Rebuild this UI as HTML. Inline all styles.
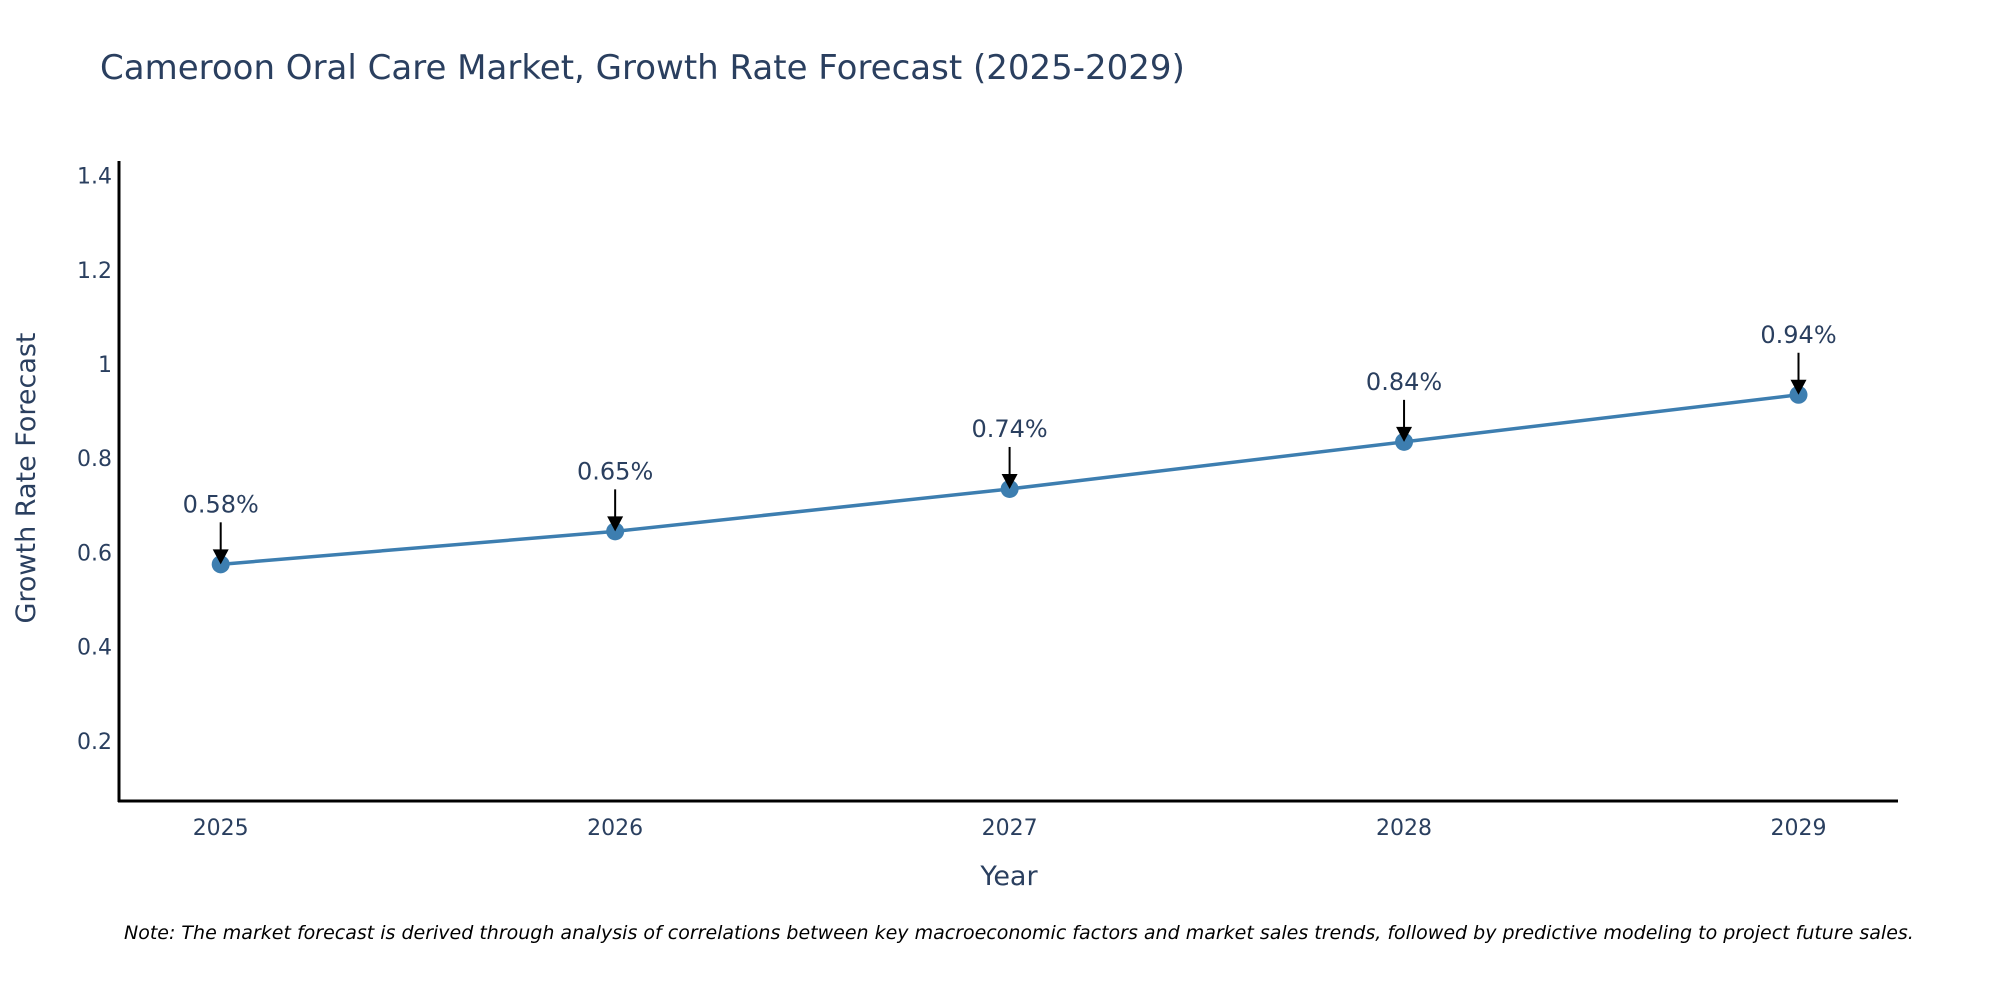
<!DOCTYPE html>
<html><head><meta charset="utf-8"><style>
html,body{margin:0;padding:0;background:#fff;}
svg{display:block;font-family:"DejaVu Sans","Liberation Sans",sans-serif;}
</style></head><body>
<svg id="chart" width="2000" height="1000" viewBox="0 0 2000 1000">
<text x="100" y="79" font-size="34" fill="#2a3f5f">Cameroon Oral Care Market, Growth Rate Forecast (2025-2029)</text>
<g id="yticks"></g>
<g id="xticks"></g>
<line x1="119" y1="161" x2="119" y2="802" stroke="#000" stroke-width="3"/>
<line x1="118" y1="801" x2="1898" y2="801" stroke="#000" stroke-width="3"/>
<g id="series"></g>
<g id="annots"></g>
<text x="1009" y="885" font-size="27" fill="#2a3f5f" text-anchor="middle">Year</text>
<text x="0" y="0" font-size="27" fill="#2a3f5f" text-anchor="middle" transform="translate(35,478) rotate(-90)">Growth Rate Forecast</text>
<text x="124" y="939" font-size="19" font-style="italic" fill="#000">Note: The market forecast is derived through analysis of correlations between key macroeconomic factors and market sales trends, followed by predictive modeling to project future sales.</text>
</svg>
<script>
const years = [2025, 2026, 2027, 2028, 2029];
const values = [0.58, 0.65, 0.74, 0.84, 0.94];
const labels = ["0.58%", "0.65%", "0.74%", "0.84%", "0.94%"];
const yTicks = [0.2, 0.4, 0.6, 0.8, 1, 1.2, 1.4];
const yTickLabels = ["0.2", "0.4", "0.6", "0.8", "1", "1.2", "1.4"];

const NS = "http://www.w3.org/2000/svg";
function xScale(yr){ return 220.7 + (yr - 2025) * 394.45; }
function yScale(v){ return 835 - v * 471; }
function mk(tag, attrs, parent){
  const e = document.createElementNS(NS, tag);
  for (const k in attrs) e.setAttribute(k, attrs[k]);
  parent.appendChild(e); return e;
}
const yt = document.getElementById('yticks');
yTicks.forEach((t,i)=>{
  const e = mk('text',{x:112,y:yScale(t)+8,'font-size':22,fill:'#2a3f5f','text-anchor':'end'},yt);
  
  
  e.textContent = yTickLabels[i];
});
const xt = document.getElementById('xticks');
years.forEach(yr=>{
  const e = mk('text',{x:xScale(yr),y:835,'font-size':22,fill:'#2a3f5f','text-anchor':'middle'},xt);
  
  
  e.textContent = yr;
});
const OFF = 2.5;
const s = document.getElementById('series');
const pts = years.map((yr,i)=>xScale(yr)+','+(yScale(values[i])+OFF)).join(' ');
const pl = mk('polyline',{points:pts,fill:'none',stroke:'#3d7eb0','stroke-width':3.5},s);


years.forEach((yr,i)=>{
  const c = mk('circle',{cx:xScale(yr),cy:yScale(values[i])+OFF,r:9,fill:'#3d7eb0'},s);
  
  
});
const a = document.getElementById('annots');
years.forEach((yr,i)=>{
  const x = xScale(yr), y = yScale(values[i]) + OFF;
  const ln = mk('line',{x1:x,y1:y-42,x2:x,y2:y-10,stroke:'#000','stroke-width':2},a);
  
  
  const hd = mk('polygon',{points:`${x-8},${y-15} ${x+8},${y-15} ${x},${y}`,fill:'#000'},a);
  
  
  const t = mk('text',{x:x,y:y-52,'font-size':24,fill:'#2a3f5f','text-anchor':'middle'},a);
  
  
  t.textContent = labels[i];
});
</script>
</body></html>
